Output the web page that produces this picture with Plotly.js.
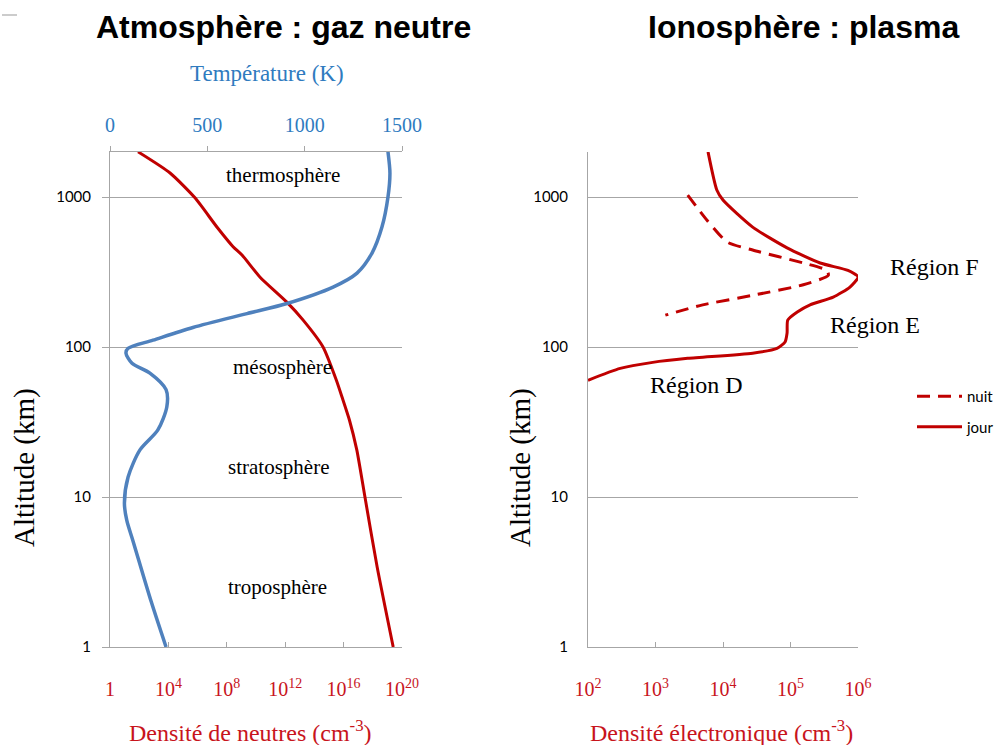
<!DOCTYPE html>
<html>
<head>
<meta charset="utf-8">
<script src="https://cdn.plot.ly/plotly-3.0.1.min.js"></script>
<style>html,body{margin:0;padding:0;background:#fff;}#chart{width:1002px;height:745px;}</style>
</head>
<body>
<div id="chart"></div>
<script>
// ---- Data ----
// Neutral density profile (altitude km, density cm^-3)
var neutralAlt = [1, 3.4, 9.8, 20.6, 32.6, 46, 60, 100, 151, 199, 292, 410, 468, 631, 987, 1445, 2000];
var neutralDens = [2.5e19, 2e18, 3e17, 8e16, 2.5e16, 8e15, 3.2e15, 3.9e14, 1.7e13, 1.3e12, 1.9e10, 1.1e9, 2.6e8, 2.1e7, 6.6e5, 1.3e4, 83];

// Temperature profile (altitude km, temperature K)
var tempAlt = [1, 2, 5, 7, 9.1, 13.6, 20.6, 28, 40, 52, 67, 78, 91, 98, 111, 135, 167, 195, 251, 311, 423, 630, 1000, 1445, 2000];
var tempK = [288, 212, 120, 86, 74, 93, 154, 246, 292, 288, 205, 113, 82, 93, 221, 426, 704, 909, 1146, 1269, 1346, 1397, 1428, 1438, 1428];

// Electron density, night (nuit)
var nightAlt = [1030, 700, 501, 443, 363, 324, 300, 260, 221, 191, 163];
var nightNe = [3000, 5800, 11500, 27500, 155000, 347000, 363000, 155000, 27500, 5000, 1400];

// Electron density, day (jour)
var dayAlt = [2000, 1114, 954, 630, 458, 363, 324, 293, 251, 215, 191, 171, 151, 124, 108, 98, 91, 84, 79, 72, 60];
var dayNe = [6000, 8100, 10000, 27500, 89000, 275000, 710000, 1000000, 760000, 430000, 195000, 126000, 91000, 89000, 83000, 63000, 27500, 3000, 910, 300, 100];

// Tick definitions
var altTicks = [1, 10, 100, 1000];
var altTickText = ['1', '10', '100', '1000'];
var neutralTicks = [1, 1e4, 1e8, 1e12, 1e16, 1e20];
var neutralTickText = ['1', '10<sup>4</sup>', '10<sup>8</sup>', '10<sup>12</sup>', '10<sup>16</sup>', '10<sup>20</sup>'];
var tempTicks = [0, 500, 1000, 1500];
var tempTickText = ['0', '500', '1000', '1500'];
var elecTicks = [1e2, 1e3, 1e4, 1e5, 1e6];
var elecTickText = ['10<sup>2</sup>', '10<sup>3</sup>', '10<sup>4</sup>', '10<sup>5</sup>', '10<sup>6</sup>'];

// Text labels
var layerNames = ['thermosphère', 'mésosphère', 'stratosphère', 'troposphère'];
var regionNames = ['Région F', 'Région E', 'Région D'];

// ---- Styling / placement (pixels) ----
var layerPos = [[283, 175], [282, 367], [278, 467], [277, 587]];
var regionPos = [[934, 267], [875, 325], [696, 385]];

var RED = '#C00000';
var RED_TXT = '#C8141C';
var BLUE = '#4F81BD';
var BLUE_TXT = '#2F7BBF';
var GRID = '#A6A6A6';
var SERIF = "'Liberation Serif', 'Times New Roman', serif";
var SANS = "'Liberation Sans', Arial, sans-serif";
var TICKSANS = "Lato, 'Open Sans', sans-serif";

var W = 1002, H = 745;
function px(x) { return x / W; }
function py(y) { return 1 - y / H; }
var xDomL = [px(110), px(402)];
var xDomR = [px(588), px(858)];
var yDom = [py(647), py(152)];

var traces = [
  {x: nightNe, y: nightAlt, xaxis: 'x3', yaxis: 'y2', type: 'scatter', mode: 'lines', name: 'nuit',
   legendgroup: 'a', line: {color: RED, width: 3, dash: '13px,8px', shape: 'spline', smoothing: 0.6}},
  {x: dayNe, y: dayAlt, xaxis: 'x3', yaxis: 'y2', type: 'scatter', mode: 'lines', name: 'jour',
   legendgroup: 'b', line: {color: RED, width: 3, shape: 'spline', smoothing: 0.6}},
  {x: neutralDens, y: neutralAlt, xaxis: 'x', yaxis: 'y', type: 'scatter', mode: 'lines', name: 'Densité de neutres',
   showlegend: false, line: {color: RED, width: 3, shape: 'spline', smoothing: 0.6}},
  {x: tempK, y: tempAlt, xaxis: 'x2', yaxis: 'y', type: 'scatter', mode: 'lines', name: 'Température',
   showlegend: false, line: {color: BLUE, width: 3.5, shape: 'spline', smoothing: 0.8}}
];

function ann(text, x, y, font, extra) {
  var a = {text: text, x: px(x), y: py(y), xref: 'paper', yref: 'paper', showarrow: false,
    xanchor: 'center', yanchor: 'middle', font: font};
  if (extra) { for (var k in extra) a[k] = extra[k]; }
  return a;
}

var annotations = [
  ann('<b>Atmosphère : gaz neutre</b>', 283, 27, {family: SANS, size: 32, color: '#000'}),
  ann('<b>Ionosphère : plasma</b>', 803, 27, {family: SANS, size: 32, color: '#000'}),
  ann('Température (K)', 267, 73, {family: SERIF, size: 23, color: BLUE_TXT}),
  ann('Densité de neutres (cm<sup>-3</sup>)', 250, 731, {family: SERIF, size: 24, color: RED_TXT}),
  ann('Densité électronique (cm<sup>-3</sup>)', 721, 731, {family: SERIF, size: 24, color: RED_TXT}),
  ann('Altitude (km)', 24, 468, {family: SERIF, size: 29, color: '#000'}, {textangle: -90}),
  ann('Altitude (km)', 520, 468, {family: SERIF, size: 29, color: '#000'}, {textangle: -90})
];
for (var i = 0; i < layerNames.length; i++) {
  annotations.push(ann(layerNames[i], layerPos[i][0], layerPos[i][1], {family: SERIF, size: 21, color: '#000'}));
}
for (var j = 0; j < regionNames.length; j++) {
  annotations.push(ann(regionNames[j], regionPos[j][0], regionPos[j][1], {family: SERIF, size: 24, color: '#000'}));
}

var layout = {
  width: W, height: H,
  margin: {l: 0, r: 0, t: 0, b: 0},
  paper_bgcolor: '#fff', plot_bgcolor: 'rgba(0,0,0,0)',
  showlegend: true,
  legend: {x: px(912), y: py(380), xanchor: 'left', yanchor: 'top', bgcolor: 'rgba(0,0,0,0)',
    font: {family: TICKSANS, size: 15, color: '#000'}, itemwidth: 45, tracegroupgap: 8, traceorder: 'grouped'},
  xaxis: {domain: xDomL, anchor: 'y', type: 'log', range: [0, 20], tickvals: neutralTicks, ticktext: neutralTickText,
    showline: true, linecolor: GRID, linewidth: 1, ticks: 'inside', ticklen: 5, tickcolor: GRID, showgrid: false,
    zeroline: false, tickfont: {family: SERIF, size: 20, color: RED_TXT}, ticklabelstandoff: 24, fixedrange: true},
  xaxis2: {overlaying: 'x', anchor: 'y', side: 'top', range: [0, 1500], tickvals: tempTicks, ticktext: tempTickText,
    showline: true, linecolor: GRID, linewidth: 1, ticks: 'outside', ticklen: 5, tickcolor: GRID, showgrid: false,
    zeroline: false, tickfont: {family: SERIF, size: 20, color: BLUE_TXT}, ticklabelstandoff: 6, fixedrange: true},
  yaxis: {domain: yDom, anchor: 'x', type: 'log', range: [0, 3.3], tickvals: altTicks, ticktext: altTickText,
    showline: true, linecolor: GRID, linewidth: 1, ticks: 'outside', ticklen: 7, tickcolor: GRID,
    showgrid: true, gridcolor: GRID, gridwidth: 1, zeroline: false,
    tickfont: {family: TICKSANS, size: 15, color: '#000'}, ticklabelstandoff: 8, fixedrange: true},
  xaxis3: {domain: xDomR, anchor: 'y2', type: 'log', range: [2, 6], tickvals: elecTicks, ticktext: elecTickText,
    showline: true, linecolor: GRID, linewidth: 1, ticks: 'inside', ticklen: 5, tickcolor: GRID, showgrid: false,
    zeroline: false, tickfont: {family: SERIF, size: 20, color: RED_TXT}, ticklabelstandoff: 24, fixedrange: true},
  yaxis2: {domain: yDom, anchor: 'x3', type: 'log', range: [0, 3.3], tickvals: altTicks, ticktext: altTickText,
    showline: true, linecolor: GRID, linewidth: 1, ticks: '', showgrid: true, gridcolor: GRID, gridwidth: 1,
    zeroline: false, tickfont: {family: TICKSANS, size: 15, color: '#000'}, ticklabelstandoff: 16, fixedrange: true},
  annotations: annotations,
  shapes: [
    {type: 'line', xref: 'paper', yref: 'paper', x0: px(2), x1: px(17), y0: py(15), y1: py(15),
     line: {color: '#999', width: 1}}
  ]
};

Plotly.newPlot('chart', traces, layout, {staticPlot: true, displayModeBar: false});
</script>
</body>
</html>
